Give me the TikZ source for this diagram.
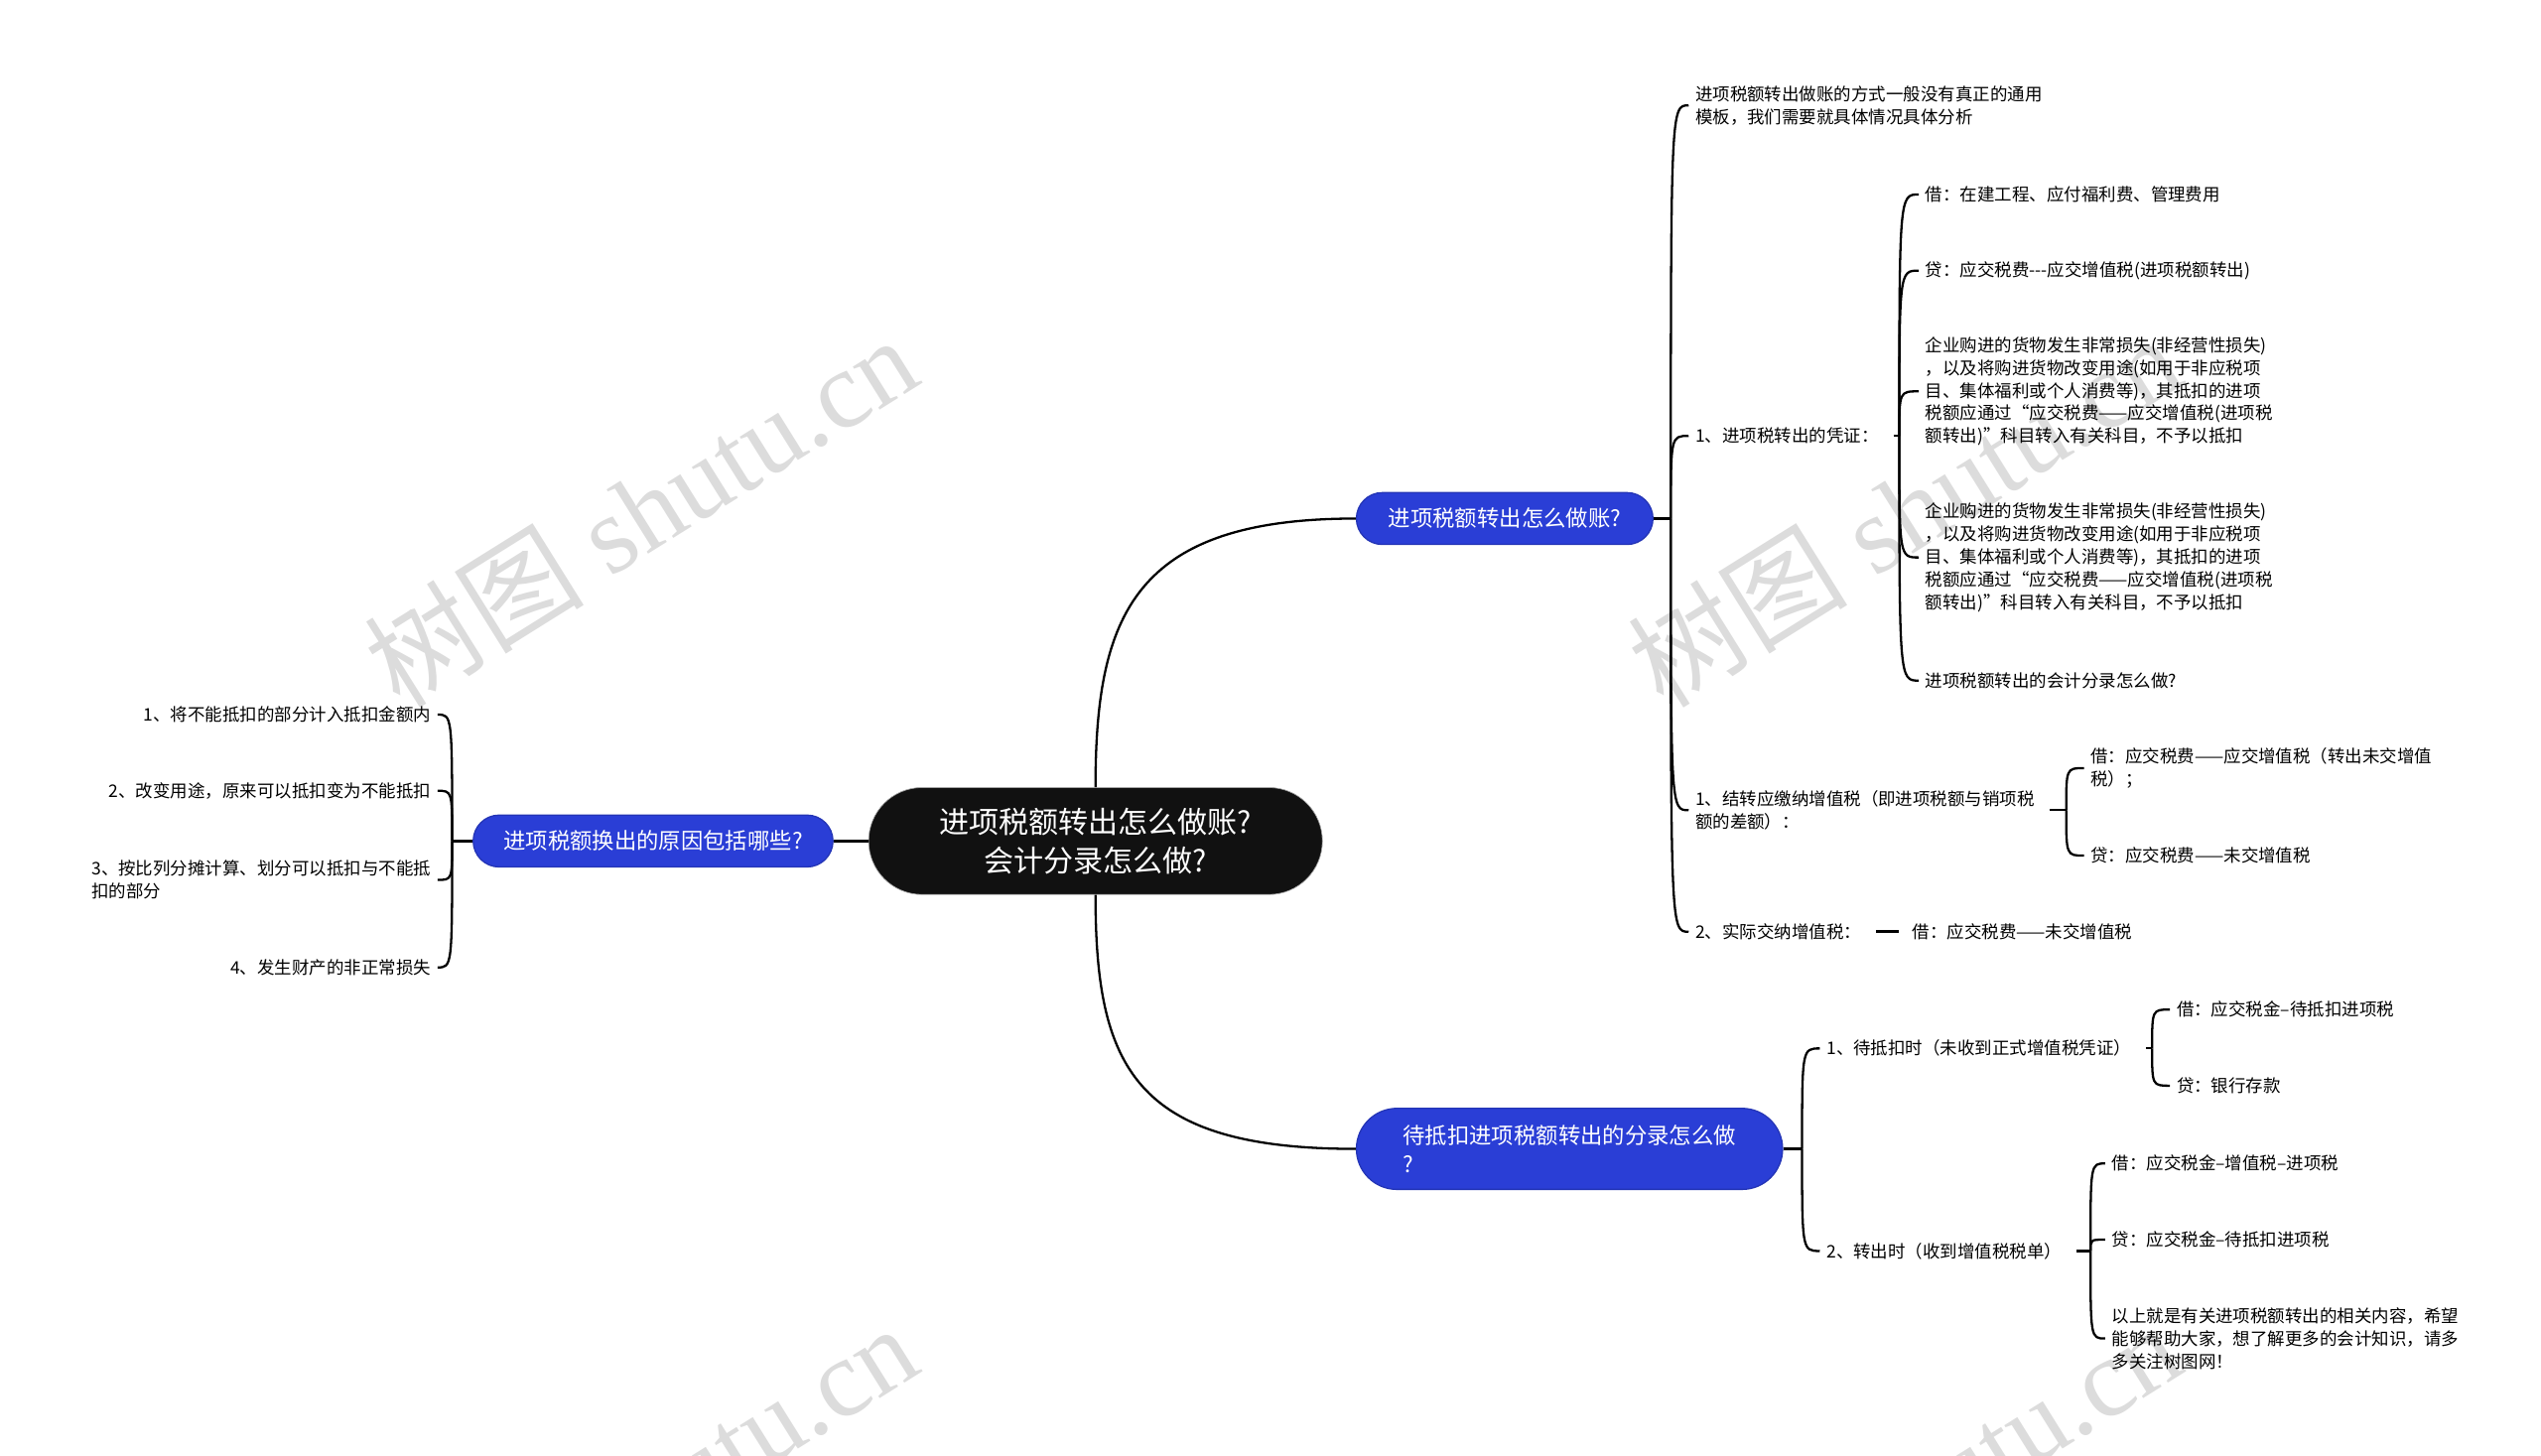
\documentclass[tikz,border=0pt]{standalone}
\usepackage{fontspec}
\setmainfont{Noto Sans CJK SC}
\newfontfamily\wmfont{Liberation Serif}
\usetikzlibrary{positioning}
\definecolor{topicblue}{HTML}{2A3ED6}
\definecolor{rootblack}{HTML}{111111}
\definecolor{wmgray}{HTML}{DCDCDC}

\begin{document}
\begin{tikzpicture}[x=1pt, y=-1pt,
    root/.style = {fill=rootblack, draw=gray!70, text=white, rounded corners=33pt, minimum width=280pt, minimum height=66pt, inner sep=0pt, align=center, font=\fontsize{18.4}{24}\selectfont},
    topic/.style = {fill=topicblue, draw=topicblue!85!black, line width=0.8pt, text=white, rounded corners=16pt, minimum height=32pt, inner sep=0pt, font=\fontsize{13.7}{18}\selectfont},
    leaf/.style = {inner xsep=4pt, inner ysep=0pt, align=left, font=\fontsize{10.7}{14}\selectfont},
    link/.style = {line width=1.4pt},
    stub/.style = {shorten <=5pt},
    hook/.style = {to path={.. controls (\tikztostart |- \tikztotarget) and (\tikztostart |- \tikztotarget) .. (\tikztotarget) \tikztonodes}},
    wm/.style = {text=wmgray, rotate=32, font=\wmfont\fontsize{68}{68}\selectfont}]
    \useasboundingbox (0,0) rectangle (1568,898);
    \clip (0,0) rectangle (1568,898);

    % watermarks
    \foreach \wx/\wy in {395/315, 1175/315, 395/925, 1175/925}
        \node[wm] at (\wx,\wy) {{\rmfamily 树图} shutu.cn};

    % centre and main topics
    \node[root] (R) at (676,519) {进项税额转出怎么做账?\\会计分录怎么做?};
    \node[topic, minimum width=183pt] (T1) at (928.5,320) {进项税额转出怎么做账?};
    \node[topic, minimum width=263pt, minimum height=50pt, rounded corners=25pt, align=left] (T2) at (968.5,709) {待抵扣进项税额转出的分录怎么做\\?};
    \node[topic, minimum width=222pt] (T3) at (403,519) {进项税额换出的原因包括哪些?};

    % upper right branch
    \node[leaf, anchor=west] (A0) at (1042,65) {进项税额转出做账的方式一般没有真正的通用\\模板，我们需要就具体情况具体分析};
    \node[leaf, anchor=west] (A1) at (1042,269) {1、进项税转出的凭证：};
    \node[leaf, anchor=west] (A2) at (1042,500) {1、结转应缴纳增值税（即进项税额与销项税\\额的差额）：};
    \node[leaf, anchor=west] (A3) at (1042,575) {2、实际交纳增值税：};

    \node[leaf, anchor=west] (A11) at (1184,120) {借：在建工程、应付福利费、管理费用};
    \node[leaf, anchor=west] (A12) at (1184,167) {贷：应交税费{-}{-}{-}应交增值税(进项税额转出)};
    \node[leaf, anchor=west] (A13) at (1184,241.5) {企业购进的货物发生非常损失(非经营性损失)\\，以及将购进货物改变用途(如用于非应税项\\目、集体福利或个人消费等)，其抵扣的进项\\税额应通过“应交税费——应交增值税(进项税\\额转出)”科目转入有关科目，不予以抵扣};
    \node[leaf, anchor=west] (A14) at (1184,344) {企业购进的货物发生非常损失(非经营性损失)\\，以及将购进货物改变用途(如用于非应税项\\目、集体福利或个人消费等)，其抵扣的进项\\税额应通过“应交税费——应交增值税(进项税\\额转出)”科目转入有关科目，不予以抵扣};
    \node[leaf, anchor=west] (A15) at (1184,420) {进项税额转出的会计分录怎么做?};

    \node[leaf, anchor=west] (A21) at (1286,474) {借：应交税费——应交增值税（转出未交增值\\税）；};
    \node[leaf, anchor=west] (A22) at (1286,528) {贷：应交税费——未交增值税};
    \node[leaf, anchor=west] (A31) at (1176,575) {借：应交税费——未交增值税};

    % lower right branch
    \node[leaf, anchor=west] (B1) at (1123,647) {1、待抵扣时（未收到正式增值税凭证）};
    \node[leaf, anchor=west] (B2) at (1123,772) {2、转出时（收到增值税税单）};
    \node[leaf, anchor=west] (B11) at (1339,623) {借：应交税金–待抵扣进项税};
    \node[leaf, anchor=west] (B12) at (1339,670) {贷：银行存款};
    \node[leaf, anchor=west] (B21) at (1299,718) {借：应交税金–增值税–进项税};
    \node[leaf, anchor=west] (B22) at (1299,765) {贷：应交税金–待抵扣进项税};
    \node[leaf, anchor=west] (B23) at (1299,826) {以上就是有关进项税额转出的相关内容，希望\\能够帮助大家，想了解更多的会计知识，请多\\多关注树图网！};

    % left branch
    \node[leaf, anchor=east] (C1) at (270,441) {1、将不能抵扣的部分计入抵扣金额内};
    \node[leaf, anchor=east] (C2) at (270,488) {2、改变用途，原来可以抵扣变为不能抵扣};
    \node[leaf, anchor=east] (C3) at (270,543) {3、按比列分摊计算、划分可以抵扣与不能抵\\扣的部分};
    \node[leaf, anchor=east] (C4) at (270,597) {4、发生财产的非正常损失};

    % junctions
    \coordinate (J1) at (1031,320);
    \coordinate (J2) at (1172,269);
    \coordinate (J3) at (1275,500);
    \coordinate (J4) at (1112,709);
    \coordinate (J5) at (1328,647);
    \coordinate (J6) at (1290,772);
    \coordinate (J7) at (279,519);

    \draw[link] (R.north) .. controls +(0,-106) and +(-137,0) .. (T1.west);
    \draw[link] (R.south) .. controls +(0,106) and +(-137,0) .. (T2.west);
    \path[link] (R.west) edge (T3.east);

    \path[link] (T1.east) edge (J1)
        (J1) edge[hook] (A0.west)
        (J1) edge[hook] (A1.west)
        (J1) edge[hook] (A2.west)
        (J1) edge[hook] (A3.west);
    \path[link] (A1.east) edge[stub] (J2)
        (J2) edge[hook] (A11.west)
        (J2) edge[hook] (A12.west)
        (J2) edge[hook] (A13.west)
        (J2) edge[hook] (A14.west)
        (J2) edge[hook] (A15.west);
    \path[link] (A2.east) edge[stub] (J3)
        (J3) edge[hook] (A21.west)
        (J3) edge[hook] (A22.west);
    \path[link] (A3.east) edge[stub, shorten >=4pt, line width=2pt] (A31.west);

    \path[link] (T2.east) edge (J4)
        (J4) edge[hook] (B1.west)
        (J4) edge[hook] (B2.west);
    \path[link] (B1.east) edge[stub] (J5)
        (J5) edge[hook] (B11.west)
        (J5) edge[hook] (B12.west);
    \path[link] (B2.east) edge[stub] (J6)
        (J6) edge[hook] (B21.west)
        (J6) edge[hook] (B22.west)
        (J6) edge[hook] (B23.west);

    \path[link] (T3.west) edge (J7)
        (J7) edge[hook] (C1.east)
        (J7) edge[hook] (C2.east)
        (J7) edge[hook] (C3.east)
        (J7) edge[hook] (C4.east);
\end{tikzpicture}
\end{document}
